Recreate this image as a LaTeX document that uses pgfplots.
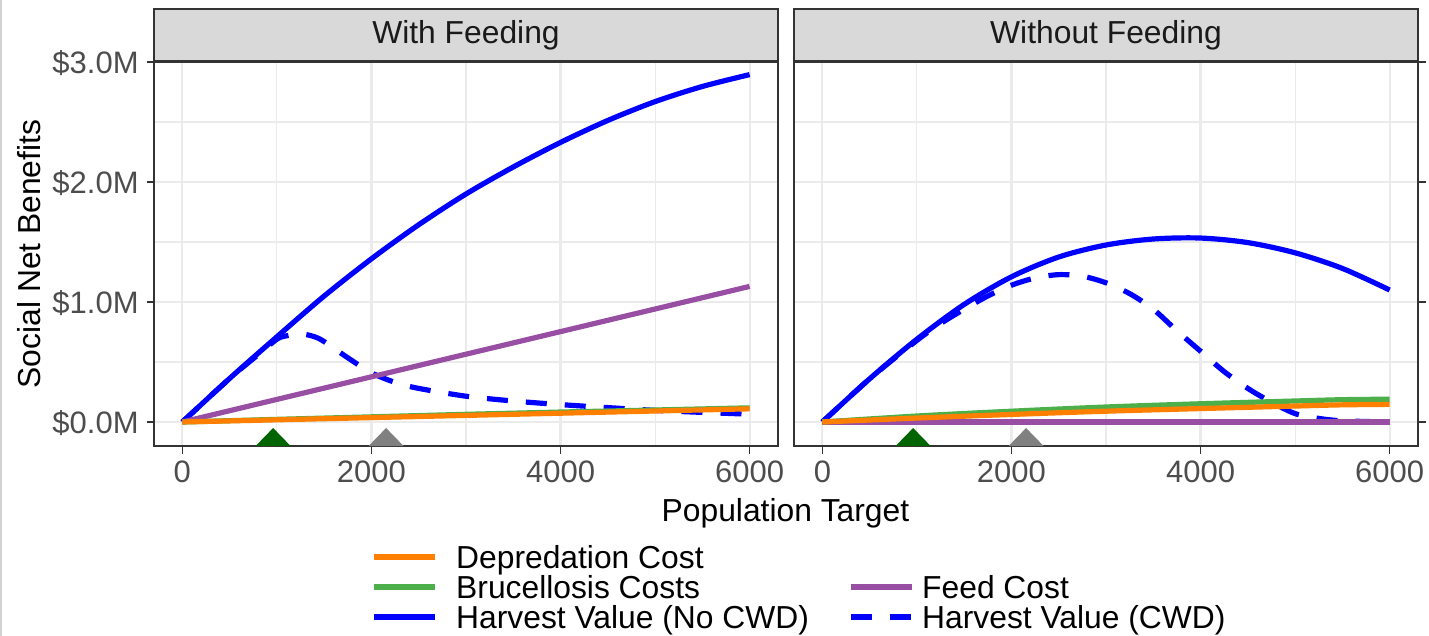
\documentclass[border=0pt]{standalone}
\usepackage{fontspec}
\setmainfont{Liberation Sans}
\usepackage{pgfplots}
\pgfplotsset{compat=1.18}

\definecolor{depr}{HTML}{FF7F00}
\definecolor{bruc}{HTML}{4DAF4A}
\definecolor{feed}{HTML}{984EA3}
\definecolor{trigreen}{HTML}{006400}
\definecolor{trigray}{HTML}{808080}
\definecolor{gridc}{HTML}{EBEBEB}
\definecolor{borderc}{HTML}{333333}
\definecolor{stripc}{HTML}{D9D9D9}
\definecolor{tickc}{HTML}{4D4D4D}
\definecolor{titlec}{HTML}{1A1A1A}

\newcommand{\fs}{\fontsize{15.5}{18}\selectfont}
\newcommand{\ft}{\fontsize{15.9}{18}\selectfont}

\pgfplotsset{
  panel/.style={
    scale only axis, width=312pt, height=192pt,
    anchor=south west,
    xmin=-300, xmax=6300, ymin=-0.2, ymax=3.0,
    xtick={0,2000,4000,6000}, minor xtick={1000,3000,5000},
    ytick={0,1,2,3}, minor ytick={0.5,1.5,2.5},
    xtick pos=bottom,
    grid=both,
    major grid style={line width=1.1pt, draw=gridc},
    minor grid style={line width=0.55pt, draw=gridc},
    axis line style={line width=0.8pt, draw=borderc},
    tick style={line width=0.8pt, draw=borderc},
    major tick length=3.75pt, minor tick length=0pt,
    tick align=outside,
    /pgf/number format/1000 sep={},
    /pgf/number format/assume math mode=true,
    every tick label/.append style={font=\fs, text=tickc},
    xticklabel style={inner sep=0pt, text height=11.1pt, text depth=0pt, anchor=north, yshift=-3pt},
    yticklabel style={inner sep=0pt, text height=11.1pt, text depth=0pt, anchor=east, xshift=-3.75pt},
    every axis title/.style={at={(0.5,1)}, anchor=south, draw=borderc, line width=0.8pt,
      fill=stripc, minimum width=312pt, minimum height=26pt, inner sep=0pt, font=\ft, text=titlec},
  },
  ser/.style={line width=2.6pt, line join=round},
  cwd/.style={ser, dash pattern=on 10.5pt off 9pt},
  legL/.style={legend image code/.code={\path (-17pt,0pt) (40pt,0pt); \draw[##1] (0pt,2pt) -- (30.5pt,2pt);}},
  legR/.style={legend image code/.code={\path (-19.5pt,0pt) (34.5pt,0pt); \draw[##1] (0pt,2pt) -- (30.5pt,2pt);}},
}

\begin{document}
\begin{tikzpicture}
\path[use as bounding box] (0,0) rectangle (714.5pt,-318pt);
\draw[gray!35, line width=1pt] (0.5pt,0pt) -- (0.5pt,-318pt);

% ---------- With Feeding ----------
\begin{axis}[panel, at={(77pt,-223pt)},
  title={With Feeding},
  ytick pos=left,
  yticklabels={\$0.0M,\$1.0M,\$2.0M,\$3.0M},
  xlabel={Population Target},
  xlabel style={at={(axis description cs:1.012,-0.16667)}, anchor=center, inner sep=0pt,
    text height=11.1pt, text depth=0pt, font=\ft, text=black},
  ylabel={Social Net Benefits},
  ylabel style={at={(axis description cs:-0.2003,0.5)}, anchor=center, inner sep=0pt,
    text height=11.1pt, text depth=0pt, font=\ft, text=black},
  legend columns=2,
  legend cell align=left,
  legend style={at={(0.29327,-0.26042)}, anchor=north west, draw=none, fill=none,
    inner sep=0pt, outer sep=0pt, row sep=0pt, column sep=0pt, font=\ft,
    nodes={inner sep=0pt, text height=11pt, text depth=4pt}},
]
\addlegendimage{legL, ser, draw=depr}\addlegendentry{Depredation Cost}
\addlegendimage{empty legend}\addlegendentry{}
\addlegendimage{legL, ser, draw=bruc}\addlegendentry{Brucellosis Costs}
\addlegendimage{legR, ser, draw=feed}\addlegendentry{Feed Cost}
\addlegendimage{legL, ser, draw=blue}\addlegendentry{Harvest Value (No CWD)}
\addlegendimage{legR, cwd, draw=blue}\addlegendentry{Harvest Value (CWD)}

% harvest value, no CWD
\addplot[ser, blue, smooth, forget plot] coordinates {
  (0,0) (500,0.363) (1000,0.71) (1500,1.05) (2000,1.36) (2500,1.644) (3000,1.90)
  (3500,2.125) (4000,2.33) (4500,2.513) (5000,2.67) (5500,2.796) (6000,2.895)};
% harvest value, CWD
\addplot[cwd, blue, smooth, forget plot] coordinates {
  (0,0) (500,0.363) (800,0.56) (1000,0.69) (1100,0.718) (1250,0.735) (1400,0.71)
  (1500,0.67) (1750,0.535) (2000,0.41) (2250,0.33) (2500,0.28) (3000,0.215)
  (3500,0.175) (4000,0.145) (4500,0.12) (5000,0.097) (5500,0.08) (6000,0.065)};
% feed cost
\addplot[ser, feed, forget plot] coordinates {(0,0) (6000,1.13)};
% brucellosis
\addplot[ser, bruc, forget plot] coordinates {
  (0,0) (1000,0.022) (2000,0.043) (3000,0.064) (4000,0.083) (5000,0.10) (6000,0.118)};
% depredation
\addplot[ser, depr, forget plot] coordinates {(0,0) (3000,0.055) (6000,0.11)};
% markers
\addplot[fill=trigreen, draw=none, forget plot] coordinates {(775,-0.2) (960,-0.05) (1145,-0.2)} -- cycle;
\addplot[fill=trigray, draw=none, forget plot] coordinates {(1970,-0.2) (2155,-0.05) (2340,-0.2)} -- cycle;
\end{axis}

% ---------- Without Feeding ----------
\begin{axis}[panel, at={(397pt,-223pt)},
  title={Without Feeding},
  ytick pos=right,
  yticklabels={},
]
\addplot[ser, blue, smooth] coordinates {
  (0,0) (500,0.36) (1000,0.69) (1500,0.98) (2000,1.21) (2500,1.375) (3000,1.475)
  (3500,1.525) (4000,1.533) (4500,1.495) (5000,1.41) (5500,1.28) (6000,1.10)};
\addplot[cwd, blue, smooth] coordinates {
  (0,0) (500,0.36) (1000,0.68) (1250,0.82) (1500,0.94) (1750,1.05) (2000,1.14)
  (2250,1.20) (2500,1.228) (2750,1.215) (3000,1.16) (3250,1.07) (3500,0.94)
  (3750,0.76) (4000,0.59) (4250,0.42) (4500,0.28) (4750,0.165) (5000,0.07)
  (5250,0.03) (5500,0.01) (6000,0)};
\addplot[ser, feed] coordinates {(0,0) (6000,0)};
\addplot[ser, bruc, smooth] coordinates {
  (0,0) (1000,0.05) (2000,0.09) (3000,0.125) (4000,0.152) (5000,0.175) (5500,0.186) (6000,0.19)};
\addplot[ser, depr, smooth] coordinates {
  (0,0) (1000,0.033) (2000,0.063) (3000,0.09) (4000,0.112) (5000,0.133) (5500,0.143) (6000,0.147)};
\addplot[fill=trigreen, draw=none] coordinates {(775,-0.2) (960,-0.05) (1145,-0.2)} -- cycle;
\addplot[fill=trigray, draw=none] coordinates {(1970,-0.2) (2155,-0.05) (2340,-0.2)} -- cycle;
\end{axis}
\end{tikzpicture}
\end{document}
